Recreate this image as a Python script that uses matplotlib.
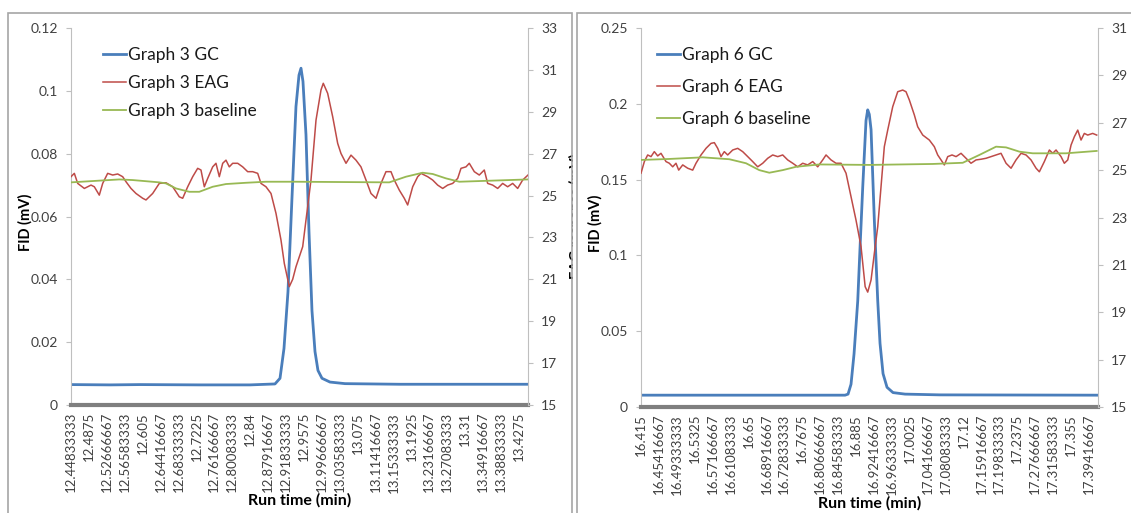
import matplotlib.pyplot as plt
from matplotlib.patches import Rectangle

plt.rcParams['font.family'] = ['Lato', 'DejaVu Sans']

BLUE = '#4a7ebb'
RED = '#be4b48'
GREEN = '#98b954'
AXIS = '#bfbfbf'
TICKTXT = '#404040'

# ---- Graph 3 ----
g3_gc_time = [12.4483, 12.5336, 12.5992, 12.7304, 12.8397, 12.8943, 12.9053, 12.9140,
              12.9227, 12.9315, 12.9402, 12.9468, 12.9512, 12.9555, 12.9621, 12.9687,
              12.9752, 12.9818, 12.9883, 12.9971, 13.0146, 13.0474, 13.1676, 13.4475]
g3_gc = [0.0065, 0.0064, 0.0065, 0.0064, 0.0064, 0.0067, 0.0085, 0.018,
         0.036, 0.066, 0.095, 0.105, 0.1072, 0.103, 0.086, 0.055,
         0.030, 0.017, 0.011, 0.0085, 0.0073, 0.0068, 0.0066, 0.0066]

g3_eag_time = [12.4483, 12.4556, 12.4630, 12.4775, 12.4921, 12.4993, 12.5102, 12.5176,
               12.5285, 12.5395, 12.5504, 12.5613, 12.5686, 12.5795, 12.5904, 12.6051,
               12.6123, 12.6269, 12.6414, 12.6560, 12.6707, 12.6851, 12.6925, 12.7035,
               12.7144, 12.7253, 12.7325, 12.7398, 12.7472, 12.7581, 12.7653, 12.7726,
               12.7800, 12.7872, 12.7944, 12.8018, 12.8128, 12.8237, 12.8346, 12.8456,
               12.8565, 12.8637, 12.8746, 12.8856, 12.8965, 12.9074, 12.9147, 12.9256,
               12.9330, 12.9402, 12.9549, 12.9621, 12.9730, 12.9840, 12.9949, 12.9999,
               13.0095, 13.0205, 13.0314, 13.0386, 13.0496, 13.0605, 13.0714, 13.0823,
               13.0933, 13.1042, 13.1152, 13.1261, 13.1370, 13.1479, 13.1552, 13.1661,
               13.1770, 13.1844, 13.1954, 13.2063, 13.2135, 13.2282, 13.2391, 13.2500,
               13.2610, 13.2719, 13.2828, 13.2938, 13.3010, 13.3119, 13.3191, 13.3301,
               13.3410, 13.3519, 13.3593, 13.3703, 13.3812, 13.3921, 13.4030, 13.4140,
               13.4249, 13.4358, 13.4475]
g3_eag = [25.90, 26.06, 25.58, 25.34, 25.50, 25.42, 25.02, 25.58,
          26.06, 25.98, 26.03, 25.90, 25.66, 25.34, 25.10, 24.87,
          24.79, 25.10, 25.58, 25.61, 25.42, 24.94, 24.87, 25.42,
          25.90, 26.30, 26.22, 25.42, 25.82, 26.37, 26.54, 25.90,
          26.54, 26.69, 26.37, 26.54, 26.54, 26.37, 26.14, 26.14,
          26.06, 25.58, 25.42, 25.10, 24.15, 22.88, 21.76, 20.65,
          21.00, 21.60, 22.56, 23.83, 25.74, 28.60, 30.04, 30.36,
          29.88, 28.76, 27.49, 27.01, 26.54, 26.93, 26.69, 26.37,
          25.74, 25.10, 24.87, 25.58, 26.14, 26.14, 25.74, 25.26,
          24.87, 24.55, 25.42, 25.90, 26.06, 25.90, 25.74, 25.50,
          25.34, 25.50, 25.58, 25.82, 26.30, 26.37, 26.54, 26.14,
          25.98, 26.22, 25.58, 25.50, 25.34, 25.58, 25.42, 25.58,
          25.34, 25.74, 25.98]

g3_base_time = [12.4483, 12.5540, 12.5832, 12.6414, 12.6560, 12.6779, 12.7070, 12.7288,
                12.7581, 12.7872, 12.8309, 12.8746, 12.9402, 13.1442, 13.1807, 13.2172,
                13.2391, 13.2682, 13.2973, 13.4475]
g3_base = [25.63, 25.77, 25.74, 25.63, 25.58, 25.34, 25.18, 25.18,
           25.42, 25.55, 25.61, 25.66, 25.66, 25.63, 25.90, 26.09,
           26.03, 25.82, 25.66, 25.77]

g3_ticks = ["12.44833333", "12.4875", "12.52666667", "12.56583333", "12.605",
            "12.64416667", "12.68333333", "12.7225", "12.76166667", "12.80083333",
            "12.84", "12.87916667", "12.91833333", "12.9575", "12.99666667",
            "13.03583333", "13.075", "13.11416667", "13.15333333", "13.1925",
            "13.23166667", "13.27083333", "13.31", "13.34916667", "13.38833333",
            "13.4275"]
g3_fid_ticks = ['0', '0.02', '0.04', '0.06', '0.08', '0.1', '0.12']
g3_eag_ticks = ['15', '17', '19', '21', '23', '25', '27', '29', '31', '33']

# ---- Graph 6 ----
g6_gc_time = [16.4150, 16.7626, 16.8610, 16.8676, 16.8741, 16.8807, 16.8888, 16.8938,
              16.8997, 16.9069, 16.9106, 16.9141, 16.9179, 16.9251, 16.9325, 16.9375,
              16.9441, 16.9528, 16.9659, 16.9922, 17.0687, 17.4141]
g6_gc = [0.0078, 0.0078, 0.0078, 0.0085, 0.015, 0.035, 0.070, 0.105,
         0.145, 0.189, 0.196, 0.193, 0.183, 0.123, 0.070, 0.042,
         0.022, 0.013, 0.0095, 0.0085, 0.0080, 0.0078]

g6_eag_time = [16.4150, 16.4223, 16.4296, 16.4369, 16.4441, 16.4515, 16.4587, 16.4697,
               16.4769, 16.4843, 16.4915, 16.4974, 16.5062, 16.5171, 16.5280, 16.5352,
               16.5462, 16.5571, 16.5680, 16.5753, 16.5827, 16.5899, 16.5971, 16.6045,
               16.6155, 16.6264, 16.6373, 16.6483, 16.6592, 16.6701, 16.6811, 16.6920,
               16.7029, 16.7139, 16.7248, 16.7357, 16.7467, 16.7576, 16.7685, 16.7794,
               16.7904, 16.8013, 16.8122, 16.8195, 16.8304, 16.8413, 16.8522, 16.8632,
               16.8741, 16.8850, 16.8960, 16.9050, 16.9106, 16.9179, 16.9251, 16.9325,
               16.9397, 16.9469, 16.9543, 16.9653, 16.9762, 16.9871, 16.9943, 17.0016,
               17.0125, 17.0199, 17.0309, 17.0453, 17.0562, 17.0636, 17.0709, 17.0781,
               17.0855, 17.0949, 17.1037, 17.1146, 17.1255, 17.1364, 17.1474, 17.1583,
               17.1692, 17.1802, 17.1911, 17.2020, 17.2130, 17.2239, 17.2348, 17.2458,
               17.2567, 17.2676, 17.2786, 17.2858, 17.2967, 17.3077, 17.3151, 17.3223,
               17.3332, 17.3404, 17.3479, 17.3551, 17.3623, 17.3697, 17.3769, 17.3841,
               17.3915, 17.4024, 17.4112]
g6_eag = [24.87, 25.36, 25.64, 25.57, 25.78, 25.60, 25.71, 25.36,
          25.29, 25.14, 25.29, 25.00, 25.22, 25.08, 25.00, 25.29,
          25.64, 25.92, 26.13, 26.16, 25.92, 25.57, 25.78, 25.64,
          25.85, 25.92, 25.78, 25.57, 25.36, 25.14, 25.29, 25.50,
          25.64, 25.57, 25.64, 25.43, 25.29, 25.14, 25.29, 25.22,
          25.36, 25.14, 25.43, 25.64, 25.43, 25.29, 25.29, 24.87,
          23.88, 22.89, 21.77, 20.08, 19.85, 20.36, 21.49, 22.61,
          24.30, 25.99, 26.69, 27.68, 28.31, 28.38, 28.31, 27.96,
          27.33, 26.83, 26.48, 26.27, 25.99, 25.64, 25.43, 25.22,
          25.57, 25.64, 25.57, 25.71, 25.50, 25.29, 25.43, 25.46,
          25.50, 25.57, 25.64, 25.71, 25.29, 25.08, 25.43, 25.71,
          25.64, 25.43, 25.08, 24.93, 25.36, 25.85, 25.71, 25.85,
          25.57, 25.29, 25.43, 26.06, 26.41, 26.69, 26.27, 26.55,
          26.48, 26.55, 26.48]

g6_base_time = [16.4150, 16.4750, 16.5499, 16.6081, 16.6446, 16.6736, 16.6955, 16.7248,
                16.7539, 16.8048, 16.9141, 17.0527, 17.1183, 17.1546, 17.1911, 17.2130,
                17.2421, 17.2713, 17.3442, 17.4112]
g6_base = [25.43, 25.47, 25.54, 25.46, 25.29, 25.00, 24.89, 25.00,
           25.14, 25.24, 25.22, 25.26, 25.31, 25.64, 25.99, 25.96,
           25.78, 25.71, 25.71, 25.81]

g6_ticks = ["16.415", "16.45416667", "16.49333333", "16.5325", "16.57166667",
            "16.61083333", "16.65", "16.68916667", "16.72833333", "16.7675",
            "16.80666667", "16.84583333", "16.885", "16.92416667", "16.96333333",
            "17.0025", "17.04166667", "17.08083333", "17.12", "17.15916667",
            "17.19833333", "17.2375", "17.27666667", "17.31583333", "17.355",
            "17.39416667"]
g6_fid_ticks = ['0', '0.05', '0.1', '0.15', '0.2', '0.25']
g6_eag_ticks = ['15', '17', '19', '21', '23', '25', '27', '29', '31']

W, H = 1131, 513
fig = plt.figure(figsize=(W / 100, H / 100), dpi=100)


def box(x0, y0, x1, y1):
    # pixel box (top-left origin) -> figure fraction rect
    return [x0 / W, 1 - y1 / H, (x1 - x0) / W, (y1 - y0) / H]


def chart(rect, z, name, gc_t, gc, eag_t, eag, base_t, base, xt, fid_t, eag_t_lbl,
          xlim, leg_xy, leg_space, eag_label=None):
    ax = fig.add_axes(rect, zorder=z)
    ax2 = ax.twinx()
    ax2.set_zorder(z + 0.5)

    l1, = ax.plot(gc_t, gc, color=BLUE, lw=2.0, solid_joinstyle='round')
    l2, = ax2.plot(eag_t, eag, color=RED, lw=1.1)
    l3, = ax2.plot(base_t, base, color=GREEN, lw=1.3)

    ax.set_xlim(*xlim)
    ax.set_ylim(0, float(fid_t[-1]))
    ax2.set_ylim(float(eag_t_lbl[0]), float(eag_t_lbl[-1]))
    ax.set_yticks([float(v) for v in fid_t], fid_t)
    ax2.set_yticks([float(v) for v in eag_t_lbl], eag_t_lbl)
    ax.set_xticks([float(v) for v in xt], xt, rotation=90)

    for a in (ax, ax2):
        a.spines['top'].set_visible(False)
    ax.spines['right'].set_visible(False)
    ax2.spines['left'].set_visible(False)
    ax2.spines['bottom'].set_visible(False)
    ax.spines['left'].set_color(AXIS)
    ax2.spines['right'].set_color(AXIS)
    ax.spines['bottom'].set_color('#7f7f7f')
    ax.spines['bottom'].set_linewidth(3.0)

    ax.tick_params(axis='y', length=3.5, width=0.8, color=AXIS, pad=6,
                   labelsize=10, labelcolor=TICKTXT)
    ax2.tick_params(axis='y', length=3.5, width=0.8, color=AXIS, pad=6,
                    labelsize=10, labelcolor=TICKTXT)
    ax.tick_params(axis='x', length=0, pad=5, labelsize=9.5, labelcolor=TICKTXT)

    ax.set_ylabel('FID (mV)', fontsize=10.5, fontweight='bold')
    ax.yaxis.set_label_coords(-0.083, 0.485)
    ax.set_xlabel('Run time (min)', fontsize=11.5, fontweight='bold')
    ax.xaxis.set_label_coords(0.5, -0.234)
    if eag_label:
        ax2.set_ylabel(eag_label, fontsize=10.5, fontweight='bold')
        ax2.yaxis.set_label_coords(1.090, 0.5)

    ax2.legend([l1, l2, l3], [f'{name} GC', f'{name} EAG', f'{name} baseline'],
               loc='upper left', bbox_to_anchor=(leg_xy[0] / W, 1 - leg_xy[1] / H),
               bbox_transform=fig.transFigure, frameon=False, fontsize=12.5,
               handlelength=1.35, handletextpad=0.12, labelspacing=leg_space,
               borderpad=0, borderaxespad=0, labelcolor='#1a1a1a')
    return ax, ax2


# left chart
fig.add_artist(Rectangle((8 / W, -0.1), (572 - 8) / W, 1.1 - 13 / H, transform=fig.transFigure,
                         fill=False, edgecolor='#a6a6a6', lw=1.2, zorder=1.2))
chart(box(71, 28, 528, 405), 0, 'Graph 3', g3_gc_time, g3_gc, g3_eag_time, g3_eag,
      g3_base_time, g3_base, g3_ticks, g3_fid_ticks, g3_eag_ticks,
      (12.44833, 13.4475), (102.5, 47), 0.7, eag_label='EAG response (mV)')

# right chart sits over the left one and hides the cut-off axis title
fig.add_artist(Rectangle((573 / W, 0), 1, 1, transform=fig.transFigure,
                         facecolor='white', edgecolor='none', zorder=1))
fig.add_artist(Rectangle((577 / W, -0.1), 1, 1.1 - 13 / H, transform=fig.transFigure,
                         fill=False, edgecolor='#a6a6a6', lw=1.2, zorder=1.5))
chart(box(641, 28, 1098, 407), 2, 'Graph 6', g6_gc_time, g6_gc, g6_eag_time, g6_eag,
      g6_base_time, g6_base, g6_ticks, g6_fid_ticks, g6_eag_ticks,
      (16.415, 17.414), (656.5, 47), 0.93)

fig.savefig('out.png', dpi=100)
